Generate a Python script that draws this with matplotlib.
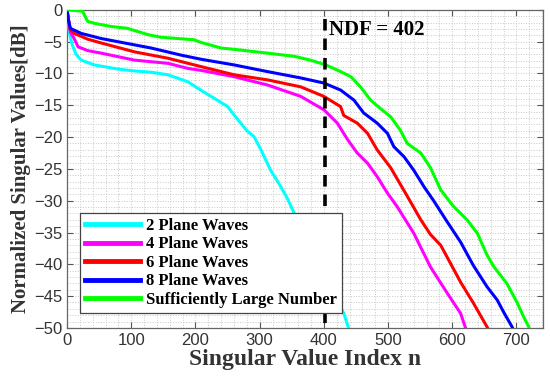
#!/usr/bin/env python3
"""
Normalized singular values vs singular value index for several plane-wave sets.
"""
import numpy as np
import matplotlib
matplotlib.use('Agg')
import matplotlib.pyplot as plt
from matplotlib.ticker import MultipleLocator

# ── Data ─────────────────────────────────────────────────────────────────────
labels = ['2 Plane Waves', '4 Plane Waves', '6 Plane Waves',
          '8 Plane Waves', 'Sufficiently Large Number']
colors = ['#00ffff', '#ff00ff', '#ff0000', '#0000ff', '#00ff00']

n_2pw = [0, 1, 4, 8, 14, 22, 42, 79, 105, 131, 157, 188, 208, 234, 250, 260,
         281, 291, 302, 317, 330, 343, 354, 380, 405, 431, 440]
db_2pw = [0, -1.0, -3.9, -5.5, -7.0, -7.9, -8.65, -9.3, -9.6, -9.8, -10.2,
          -11.3, -12.6, -14.2, -15.2, -16.5, -19.1, -19.9, -22.0, -25.2, -27.3,
          -29.6, -32.0, -37.0, -42.5, -47.7, -50.5]

n_4pw = [0, 2, 5, 11, 17, 32, 53, 105, 157, 188, 208, 260, 312, 364, 400, 421,
         437, 452, 468, 483, 499, 514, 540, 566, 592, 613, 620, 623]
db_4pw = [0, -1.5, -3.5, -4.5, -5.8, -6.4, -6.8, -7.9, -8.4, -9.2, -9.5, -10.5,
          -11.8, -13.6, -15.7, -17.8, -20.4, -22.5, -24.1, -26.2, -28.8, -30.9,
          -35.1, -40.4, -44.5, -47.7, -49.8, -50.5]

n_6pw = [0, 2, 5, 11, 32, 53, 105, 157, 208, 260, 312, 364, 400, 426, 431, 452,
         468, 483, 504, 530, 551, 566, 582, 597, 613, 633, 654, 658]
db_6pw = [0, -1.5, -3.1, -3.7, -4.6, -5.2, -6.6, -7.6, -8.9, -10.2, -11.0,
          -12.1, -13.6, -15.2, -16.6, -17.8, -19.4, -22.0, -24.8, -29.3, -33.0,
          -35.3, -37.0, -39.8, -42.8, -46.1, -49.8, -50.5]

n_8pw = [0, 2, 5, 22, 53, 79, 131, 177, 208, 260, 312, 364, 400, 426, 447, 462,
         483, 499, 509, 525, 540, 556, 571, 592, 613, 633, 654, 670, 680, 693,
         696]
db_8pw = [0, -1.5, -2.9, -3.7, -4.5, -5.0, -6.0, -7.1, -7.75, -8.65, -9.7,
          -10.7, -11.5, -12.6, -14.2, -16.2, -17.8, -19.4, -21.5, -23.1, -25.2,
          -27.8, -30.0, -33.3, -36.5, -40.2, -43.5, -45.6, -47.5, -49.8, -50.5]

n_large = [0, 24, 32, 42, 68, 94, 126, 146, 172, 198, 208, 240, 260, 312, 354,
           379, 403, 426, 442, 457, 473, 488, 504, 519, 530, 551, 566, 582,
           602, 623, 639, 654, 665, 685, 701, 711, 719, 722]
db_large = [0, -0.2, -1.8, -2.1, -2.6, -2.9, -3.9, -4.3, -4.5, -4.7, -5.1,
            -6.0, -6.2, -6.8, -7.3, -7.9, -8.65, -9.7, -10.5, -12.1, -14.2,
            -15.5, -16.8, -18.9, -21.0, -22.5, -24.8, -28.3, -30.9, -33.0,
            -35.1, -38.5, -40.4, -43.0, -46.0, -48.2, -49.8, -50.5]

ndf = 402

# ── Figure ───────────────────────────────────────────────────────────────────
fig = plt.figure(figsize=(5.5, 3.8), dpi=100)
ax = fig.add_axes([0.122, 0.137, 0.866, 0.837])

series = [(n_2pw, db_2pw), (n_4pw, db_4pw), (n_6pw, db_6pw),
          (n_8pw, db_8pw), (n_large, db_large)]
for (n, db), c, lab in zip(series, colors, labels):
    ax.plot(n, db, color=c, lw=2.2, label=lab, zorder=3)

ax.plot([ndf, ndf], [-1.5, -50], color='black', lw=2.6,
        ls=(0, (3.2, 2.2)), zorder=4)
ax.text(ndf + 6, -3.1, f'NDF = {ndf}', family='Liberation Serif',
        fontweight='bold', fontsize=15, va='center', ha='left')

ax.set_xlim(0, 742)
ax.set_ylim(-50, 0)
ax.xaxis.set_major_locator(MultipleLocator(100))
ax.xaxis.set_minor_locator(MultipleLocator(20))
ax.yaxis.set_major_locator(MultipleLocator(5))
ax.yaxis.set_minor_locator(MultipleLocator(1))
ax.grid(True, which='both', ls=':', lw=0.7, color='#c8c8c8')
ax.set_axisbelow(True)
ax.tick_params(which='major', direction='in', length=4, width=0.8,
               top=True, right=True, colors='#555555',
               labelcolor='#333333', labelsize=12)
ax.tick_params(which='minor', length=0)
for lbl in ax.get_xticklabels() + ax.get_yticklabels():
    lbl.set_family('Liberation Sans')
for sp in ax.spines.values():
    sp.set_color('#666666')
    sp.set_linewidth(0.9)

ax.set_xlabel('Singular Value Index n', family='Liberation Serif',
              fontweight='bold', fontsize=17, color='#333333', labelpad=1)
ax.set_ylabel('Normalized Singular Values[dB]', family='Liberation Serif',
              fontweight='bold', fontsize=15, color='#333333', labelpad=2)

leg = ax.legend(loc='lower left', bbox_to_anchor=(0.027, 0.047),
                prop={'family': 'Liberation Serif', 'weight': 'bold',
                      'size': 12},
                handlelength=3.3, handletextpad=0.35, labelspacing=0.15,
                borderpad=0.3, fancybox=False, framealpha=1,
                edgecolor='#444444', borderaxespad=0)
leg.get_frame().set_linewidth(0.9)
for h in leg.get_lines():
    h.set_linewidth(3.5)

fig.savefig('out.png', dpi=100)
